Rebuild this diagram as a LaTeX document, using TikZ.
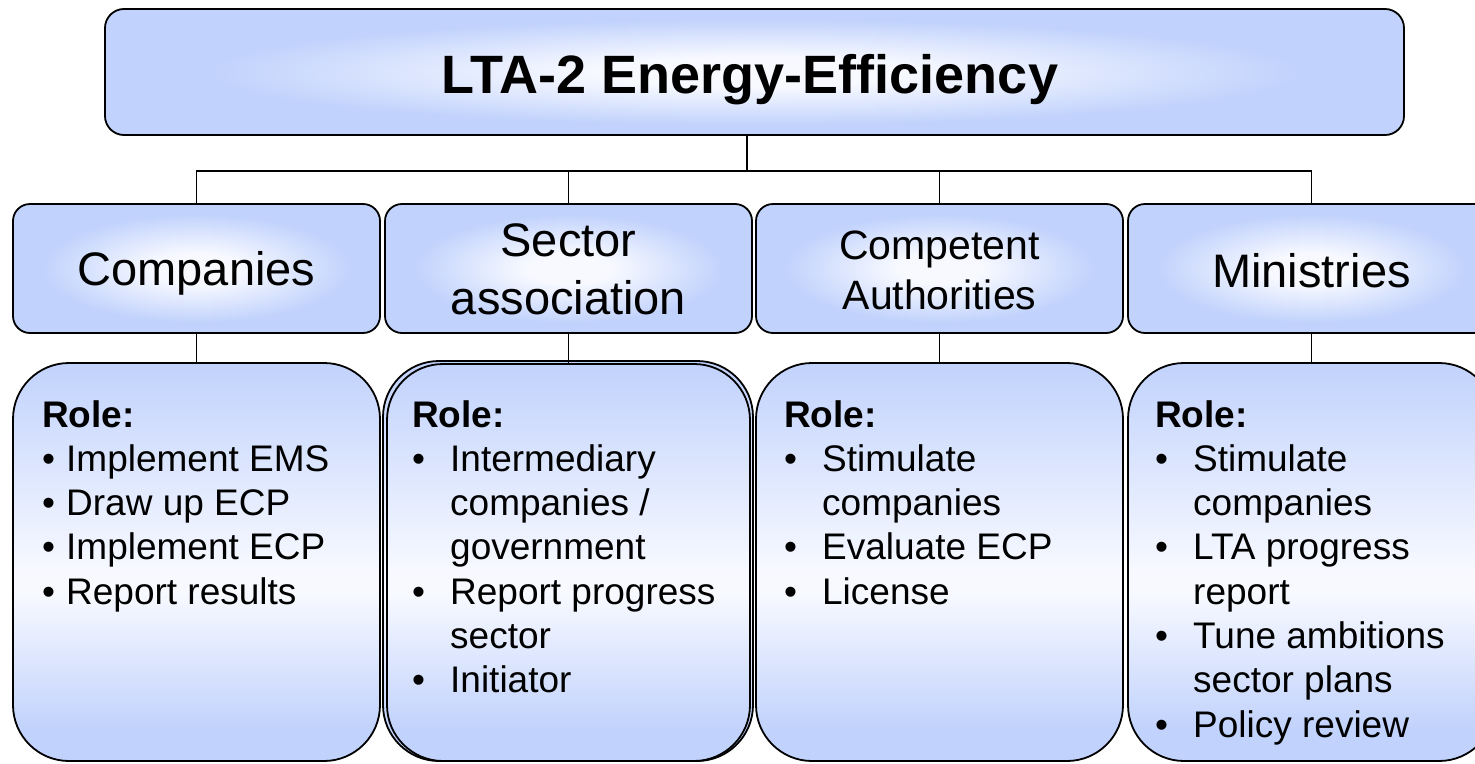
\documentclass[tikz,border=0pt]{standalone}
\usepackage{fontspec}
\setmainfont{Liberation Sans}
\definecolor{boxblue}{RGB}{193,210,252}
\definecolor{glow}{RGB}{247,249,255}
\pgfdeclareradialshading{boxglow}{\pgfpoint{0bp}{0bp}}{color(0bp)=(glow); color(6bp)=(glow); color(21bp)=(boxblue); color(50bp)=(boxblue)}
\pgfdeclareverticalshading{rolegrad}{100bp}{color(0bp)=(boxblue); color(29bp)=(boxblue); color(46bp)=(glow); color(49bp)=(glow); color(75bp)=(boxblue); color(100bp)=(boxblue)}
\newcommand{\bulA}{\makebox[24pt][l]{•}}
\newcommand{\bulB}{\makebox[38pt][l]{•}}
\newcommand{\indB}{\hspace*{38pt}}
\tikzset{
  topbox/.style={draw=black, line width=1.8pt, rounded corners=19pt, shading=boxglow,
    minimum width=1299pt, minimum height=126pt, inner sep=0pt},
  midbox/.style={draw=black, line width=1.8pt, rounded corners=17pt, shading=boxglow,
    minimum width=367pt, minimum height=129pt, inner sep=0pt},
  rolebox/.style={draw=black, line width=1.8pt, rounded corners=56pt, shading=rolegrad,
    minimum width=367pt, minimum height=398pt, inner sep=0pt},
  roletext/.style={anchor=north west, inner sep=0pt, align=left,
    font=\fontsize{37}{44.3}\selectfont},
  midtext/.style={inner sep=0pt, align=center, font=\fontsize{47}{58}\selectfont},
  conn/.style={line width=1.8pt, draw=black}
}
\begin{document}
\begin{tikzpicture}[x=1pt, y=-1pt]
\useasboundingbox (0,0) rectangle (1475,763);
\coordinate (bus) at (747,171);
% boxes
\node[topbox] (top) at (754.5,72) {};
\node[midbox] (c1) at (196.5,268.5) {};
\node[midbox] (c2) at (568.5,268.5) {};
\node[midbox] (c3) at (939.5,268.5) {};
\node[midbox] (c4) at (1311.5,268.5) {};
\node[rolebox] (r1) at (196.5,562) {};
\node[rolebox, minimum width=370pt, minimum height=400pt] (r2b) at (568,561) {};
\node[rolebox, minimum width=363pt, minimum height=397pt] (r2) at (568.5,562.5) {};
\node[rolebox] (r3) at (939.5,562) {};
\node[rolebox] (r4) at (1311.5,562) {};
% connectors
\draw[conn] (bus |- top.south) -- (bus);
\draw[conn] (c1.north) |- (bus) -| (c4.north);
\draw[conn] (bus) -| (c2.north);
\draw[conn] (bus) -| (c3.north);
\draw[conn] (c1.south) -- (r1.north);
\draw[conn] (c2.south) -- (r2.north);
\draw[conn] (c3.south) -- (r3.north);
\draw[conn] (c4.south) -- (r4.north);
% texts
\node[inner sep=0pt, anchor=base, font=\fontsize{54}{60}\selectfont\bfseries] (title) at (750,93) {LTA-2 Energy-Efficiency};
\node[midtext, anchor=base] (t1) at (196.5,285) {Companies};
\node[midtext] (t2) at (568.5,269) {Sector\\association};
\node[midtext, font=\fontsize{41}{50}\selectfont] (t3) at (939.5,270) {Competent\\Authorities};
\node[midtext, anchor=base] (t4) at (1311.5,287) {Ministries};
\node[roletext] (l1) at (42,400) {\textbf{Role:}\\
\bulA Implement EMS\\
\bulA Draw up ECP\\
\bulA Implement ECP\\
\bulA Report results};
\node[roletext] (l2) at (412,400) {\textbf{Role:}\\
\bulB Intermediary\\
\indB companies /\\
\indB government\\
\bulB Report progress\\
\indB sector\\
\bulB Initiator};
\node[roletext] (l3) at (784,400) {\textbf{Role:}\\
\bulB Stimulate\\
\indB companies\\
\bulB Evaluate ECP\\
\bulB License};
\node[roletext] (l4) at (1155,400) {\textbf{Role:}\\
\bulB Stimulate\\
\indB companies\\
\bulB LTA progress\\
\indB report\\
\bulB Tune ambitions\\
\indB sector plans\\
\bulB Policy review};
\end{tikzpicture}
\end{document}
